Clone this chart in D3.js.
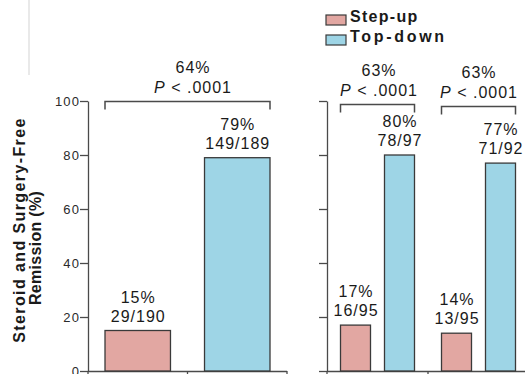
<!DOCTYPE html>
<html>
<head>
<meta charset="utf-8">
<script src="https://cdn.jsdelivr.net/npm/d3@7/dist/d3.min.js"></script>
<style>
  html, body { margin: 0; padding: 0; background: #fff; }
  svg { display: block; font-family: "Liberation Sans", Arial, sans-serif; }
</style>
</head>
<body>
<script>
// ---- data ----
const series = ["Step-up", "Top-down"];
const groupKeys = ["all", "sub1", "sub2"];
const stepUpPct = [15, 17, 14];
const topDownPct = [79, 80, 77];
const stepUpCounts = ["29/190", "16/95", "13/95"];
const topDownCounts = ["149/189", "78/97", "71/92"];
const diffLabels = ["64%", "63%", "63%"];
const pValues = [".0001", ".0001", ".0001"];
const yTicks = [0, 20, 40, 60, 80, 100];
const yTitle = ["Steroid and Surgery-Free", "Remission (%)"];

// ---- layout ----
const W = 525, H = 374;
const colors = { "Step-up": "#e2a7a2", "Top-down": "#9ed5e6" };
const axisColor = "#4a4a4a";
const panels = [
  { groups: [0], x0: 88, x1: 287, cluster: 165, padInner: 0.342, tickLabels: true,
    headerDx: [5], bracketLevel: [100] },
  { groups: [1, 2], x0: 327, x1: 529, cluster: 74, padInner: 0.318, tickLabels: false,
    headerDx: [1, 0], bracketLevel: [99, 98] }
];

const svg = d3.select("body").append("svg").attr("width", W).attr("height", H);

const y = d3.scaleLinear().domain([0, 100]).range([371, 101]);

// faint edge line on the left
svg.append("line")
  .attr("x1", 29).attr("x2", 29).attr("y1", 0).attr("y2", 75)
  .attr("stroke", "#e2e2e2").attr("stroke-width", 1.5);

panels.forEach(p => {
  const g = svg.append("g");

  // y axis
  const yAxis = d3.axisLeft(y)
    .tickValues(yTicks)
    .tickSize(8)
    .tickSizeOuter(0)
    .tickPadding(0)
    .tickFormat(p.tickLabels ? d3.format("d") : () => "");
  const ya = g.append("g").attr("transform", `translate(${p.x0},0)`).call(yAxis);
  ya.attr("font-family", null).attr("font-size", null);
  ya.select(".domain").attr("stroke", axisColor).attr("stroke-width", 1.3);
  ya.selectAll(".tick line").attr("stroke", axisColor).attr("stroke-width", 1.3);
  ya.selectAll(".tick text")
    .attr("fill", "#2a2a2a").style("font-size", "13px").style("letter-spacing", "1.1px");

  // baseline with boundary ticks
  const bx = d3.scaleLinear().domain([0, 2]).range([p.x0, p.x1]);
  g.append("line")
    .attr("x1", p.x0).attr("x2", p.x1).attr("y1", y(0) + 0.5).attr("y2", y(0) + 0.5)
    .attr("stroke", axisColor).attr("stroke-width", 1.3);
  g.selectAll("line.btick").data([0, 1, 2]).join("line")
    .attr("class", "btick")
    .attr("x1", d => bx(d)).attr("x2", d => bx(d))
    .attr("y1", y(0)).attr("y2", y(0) + 6)
    .attr("stroke", axisColor).attr("stroke-width", 1.3);

  // group and bar scales
  const gx = d3.scaleBand().domain(p.groups.map(i => groupKeys[i])).range([p.x0, p.x1]);
  const sx = d3.scaleBand().domain(series)
    .range([-p.cluster / 2, p.cluster / 2]).paddingInner(p.padInner);

  p.groups.forEach((gi, k) => {
    const cx = gx(groupKeys[gi]) + gx.bandwidth() / 2;
    const rows = [
      { s: "Step-up", v: stepUpPct[gi], n: stepUpCounts[gi] },
      { s: "Top-down", v: topDownPct[gi], n: topDownCounts[gi] }
    ];
    const gg = g.append("g").attr("transform", `translate(${cx},0)`);

    gg.selectAll("rect").data(rows).join("rect")
      .attr("x", d => sx(d.s))
      .attr("width", sx.bandwidth())
      .attr("y", d => y(d.v))
      .attr("height", d => y(0) - y(d.v))
      .attr("fill", d => colors[d.s])
      .attr("stroke", "#3a3a3a").attr("stroke-width", 1.3);

    const lab = gg.selectAll("g.lab").data(rows).join("g").attr("class", "lab")
      .attr("transform", d => `translate(${sx(d.s) + sx.bandwidth() / 2 + 0.5},${y(d.v)})`);
    lab.append("text").attr("y", -28).text(d => d.v + "%");
    lab.append("text").attr("y", -9).text(d => d.n);
    lab.selectAll("text")
      .attr("text-anchor", "middle").attr("fill", "#1a1a1a")
      .style("font-size", "16px").style("letter-spacing", "1px");

    // comparison bracket
    const left = sx("Step-up"), right = sx("Top-down") + sx.bandwidth();
    const by = Math.round(y(p.bracketLevel[k])) + 0.5;
    gg.append("path")
      .attr("d", `M${left},${by + 8}V${by}H${right}V${by + 8}`)
      .attr("fill", "none").attr("stroke", axisColor).attr("stroke-width", 1.5);

    const hx = (left + right) / 2 + p.headerDx[k];
    gg.append("text").attr("x", hx + 0.5).attr("y", by - 28.5)
      .attr("text-anchor", "middle").attr("fill", "#1a1a1a")
      .style("font-size", "16px").style("letter-spacing", "1px")
      .text(diffLabels[gi]);
    const pt = gg.append("text").attr("x", hx + 0.5).attr("y", by - 8.5)
      .attr("text-anchor", "middle").attr("fill", "#1a1a1a")
      .style("font-size", "16px").style("letter-spacing", "1px");
    pt.append("tspan").style("font-style", "italic").text("P");
    pt.append("tspan").text(" < " + pValues[gi]);
  });
});

// y-axis title
const yt = svg.append("g").attr("font-weight", "bold").attr("fill", "#1a1a1a")
  .style("font-size", "16px");
yt.append("text")
  .attr("transform", "translate(25,230) rotate(-90)")
  .attr("text-anchor", "middle").style("letter-spacing", "1.4px")
  .text(yTitle[0]);
yt.append("text")
  .attr("transform", "translate(41,248) rotate(-90)")
  .attr("text-anchor", "middle").style("letter-spacing", "0.3px")
  .text(yTitle[1]);

// legend
const legend = svg.append("g").attr("transform", "translate(326,0)");
const legendRows = legend.selectAll("g").data(series).join("g")
  .attr("transform", (d, i) => `translate(0,${15 + i * 20})`);
legendRows.append("rect")
  .attr("width", 20).attr("height", 10)
  .attr("fill", d => colors[d])
  .attr("stroke", "#3a3a3a").attr("stroke-width", 1.2);
legendRows.append("text")
  .attr("x", 24).attr("y", 7)
  .attr("font-weight", "bold").attr("fill", "#1a1a1a")
  .style("font-size", "16px")
  .style("letter-spacing", (d, i) => i === 0 ? "1.3px" : "2.7px")
  .text(d => d);
</script>
</body>
</html>
